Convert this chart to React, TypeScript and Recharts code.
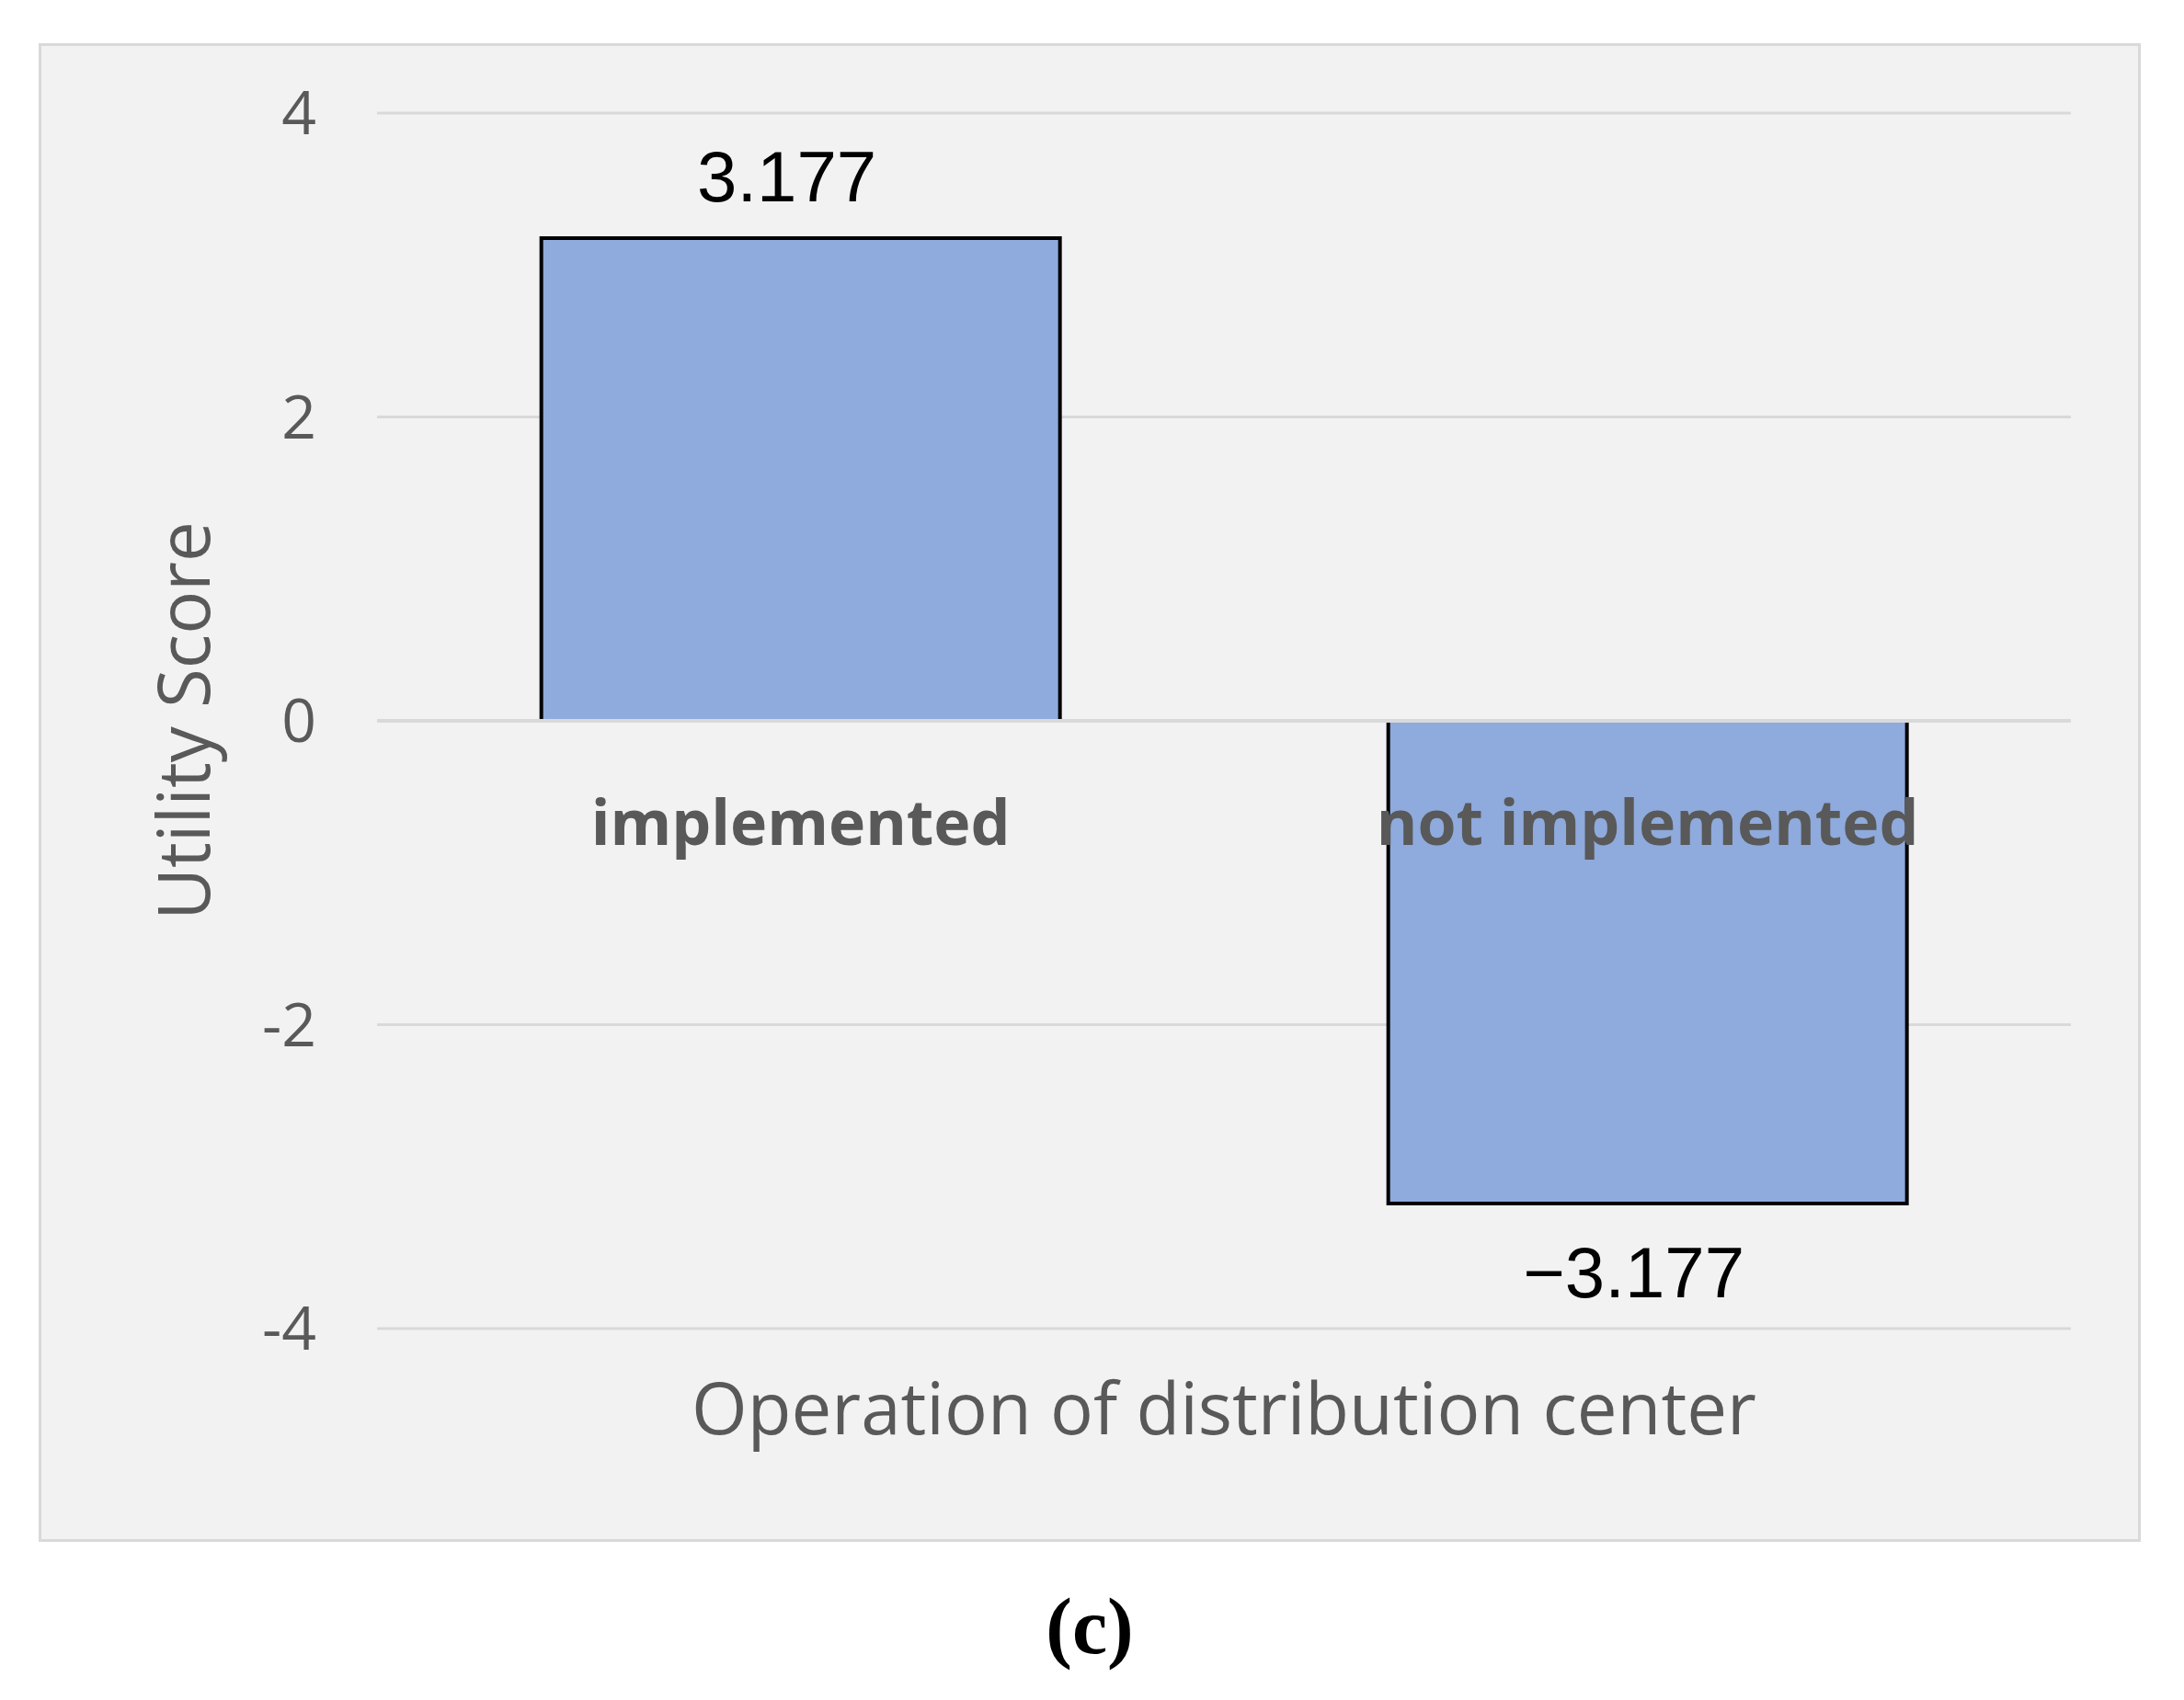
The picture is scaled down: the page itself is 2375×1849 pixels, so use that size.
import React from 'react';
import { BarChart, Bar, XAxis, YAxis, CartesianGrid, LabelList, ReferenceLine } from 'recharts';

const categories = ['implemented', 'not implemented'];
const utilityScores = [3.177, -3.177];
const yTicks = [-4, -2, 0, 2, 4];

const W = 2375;
const H = 1849;

const data = categories.map((name, i) => ({ name, score: utilityScores[i] }));

const fmt = (v: number) => (v < 0 ? `\u2212${Math.abs(v).toFixed(3)}` : v.toFixed(3));

// value label above/below the bar end, category name just under the zero line
const BarLabels = (props: any) => {
  const { x, y, width, height, index } = props;
  const v = utilityScores[index];
  const top = Math.min(y, y + height);
  const bottom = Math.max(y, y + height);
  const zero = v >= 0 ? bottom : top;
  const cx = x + width / 2;
  return (
    <g>
      <text
        x={cx - 15}
        y={v >= 0 ? top - 40 : bottom + 102}
        textAnchor="middle"
        fill="#000"
        fontSize={78}
        fontFamily="Liberation Sans, Arial, sans-serif"
      >
        {fmt(v)}
      </text>
      <text
        x={cx}
        y={zero + 135}
        textAnchor="middle"
        fill="#595959"
        fontSize={68}
        fontWeight="bold"
        fontFamily="Open Sans, sans-serif"
      >
        {categories[index]}
      </text>
    </g>
  );
};

export default function App() {
  return (
    <div style={{ position: 'absolute', left: 0, top: 0, width: W, height: H, background: '#fff' }}>
      <svg width={W} height={H} style={{ position: 'absolute', left: 0, top: 0 }}>
        <rect x={43.5} y={48.5} width={2283} height={1627} fill="#f2f2f2" stroke="#d9d9d9" strokeWidth={3} />
        <text
          x={1185}
          y={1798}
          textAnchor="middle"
          fontSize={86}
          fontWeight="bold"
          fontFamily="Liberation Serif, Times New Roman, serif"
          fill="#000"
        >
          (c)
        </text>
      </svg>
      <div style={{ position: 'absolute', left: 0, top: 0 }}>
        <BarChart
          width={W}
          height={H}
          data={data}
          margin={{ top: 123, right: 123, bottom: 0, left: 110 }}
          barCategoryGap="19.4%"
        >
          <CartesianGrid vertical={false} stroke="#d9d9d9" strokeWidth={3} />
          <YAxis
            width={300}
            domain={[-4, 4]}
            ticks={yTicks}
            interval={0}
            axisLine={false}
            tickLine={false}
            tickSize={0}
            tickMargin={66}
            tick={{ fill: '#595959', fontSize: 66, fontFamily: 'Open Sans, sans-serif' }}
            label={{
              content: (p: any) => {
                const cx = 228;
                const cy = p.viewBox.y + p.viewBox.height / 2;
                return (
                  <text
                    x={cx}
                    y={cy}
                    transform={`rotate(-90 ${cx} ${cy})`}
                    textAnchor="middle"
                    fill="#595959"
                    fontSize={78}
                    fontFamily="Open Sans, sans-serif"
                  >
                    Utility Score
                  </text>
                );
              },
            }}
          />
          <XAxis
            dataKey="name"
            height={404}
            tick={false}
            axisLine={false}
            tickLine={false}
            label={{
              content: (p: any) => (
                <text
                  x={p.viewBox.x + p.viewBox.width / 2}
                  y={p.viewBox.y + 115}
                  textAnchor="middle"
                  fill="#595959"
                  fontSize={78}
                  fontFamily="Open Sans, sans-serif"
                >
                  Operation of distribution center
                </text>
              ),
            }}
          />
          <Bar dataKey="score" fill="#8faadc" stroke="#000" strokeWidth={4} isAnimationActive={false}>
            <LabelList dataKey="score" content={BarLabels} />
          </Bar>
          <ReferenceLine y={0} stroke="#d9d9d9" strokeWidth={4} />
        </BarChart>
      </div>
    </div>
  );
}
